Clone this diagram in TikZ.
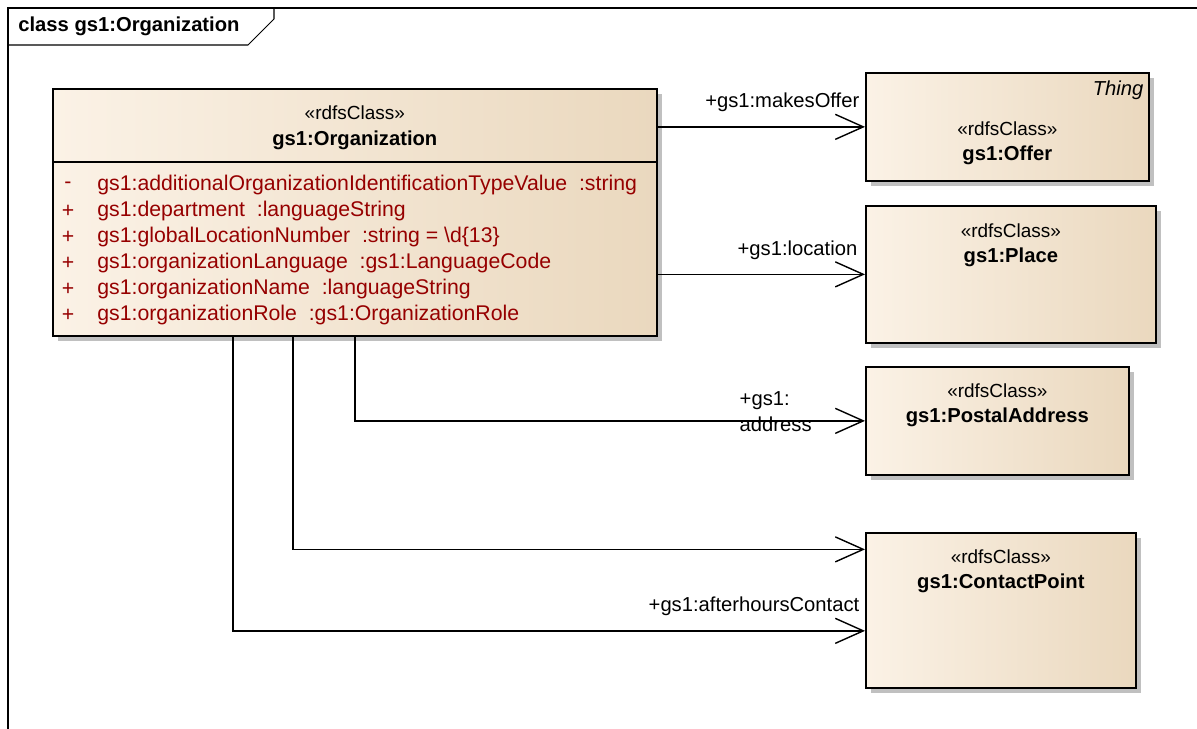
\documentclass[tikz,border=0pt]{standalone}
\usepackage{fontspec}
\setmainfont{Liberation Sans}
\usepackage{xcolor}
\definecolor{clsleft}{RGB}{251,242,230}
\definecolor{clsright}{RGB}{234,216,190}
\definecolor{attrred}{RGB}{150,0,0}
\definecolor{shadowgray}{RGB}{192,192,192}
\usetikzlibrary{arrows.meta,positioning,shadows}

\begin{document}
\begin{tikzpicture}[x=0.02cm,y=-0.02cm,
    font=\fontsize{11.5}{14.8}\selectfont,
    clsbox/.style={draw=black,line width=1pt,left color=clsleft,right color=clsright,
      drop shadow={shadow xshift=0.11cm,shadow yshift=-0.11cm,fill=shadowgray,opacity=1},
      anchor=north west,inner sep=0pt},
    stereo/.style={inner sep=0pt,font=\fontsize{10.8}{14}\selectfont},
    clsname/.style={inner sep=0pt,font=\fontsize{11.5}{14.8}\selectfont\bfseries},
    attr/.style={inner sep=0pt,anchor=west,text=attrred,font=\fontsize{12.1}{14.8}\selectfont},
    assoc/.style={line width=0.8pt,-{Straight Barb[length=0.56cm,width=0.5cm,line width=0.8pt]}},
    role/.style={inner sep=0pt,anchor=south east}]
    \useasboundingbox (0,0) rectangle (1197,729);

    % diagram frame
    \draw[line width=0.6pt] (8,729) -- (8,8) -- (1197,8);
    \draw[line width=0.6pt] (8,45) -- (248,45) -- (274,19) -- (274,8);
    \node[clsname,anchor=west] (frametitle) at (18,26) {class gs1:Organization};

    % gs1:Organization
    \node[clsbox,minimum width=12.08cm,minimum height=4.94cm] (org) at (52,88) {};
    \draw[line width=1pt] ([yshift=-1.48cm]org.north west) -- ([yshift=-1.48cm]org.north east);
    \node[stereo] (orgst) at ([yshift=-0.5cm]org.north) {«rdfsClass»};
    \node[clsname] (orgnm) at ([yshift=-1.04cm]org.north) {gs1:Organization};
    \foreach \vis/\txt [count=\i] in {
        -/gs1:additionalOrganizationIdentificationTypeValue\ \ :string,
        +/gs1:department\ \ :languageString,
        +/gs1:globalLocationNumber\ \ :string = \textbackslash d\{13\},
        +/gs1:organizationLanguage\ \ :gs1:LanguageCode,
        +/gs1:organizationName\ \ :languageString,
        +/gs1:organizationRole\ \ :gs1:OrganizationRole}
    {
        \node[attr,anchor=center] (vis\i) at (68,159+26*\i) {\vis};
        \node[attr] (attr\i) at (97,159+26*\i) {\txt};
    }

    % target classes
    \node[clsbox,minimum width=5.66cm,minimum height=2.16cm] (offer) at (865,72) {};
    \node[stereo,anchor=east] (offerth) at ([xshift=-0.12cm,yshift=-0.36cm]offer.north east) {\fontsize{11.5}{14}\selectfont\itshape Thing};
    \node[stereo] (offerst) at ([yshift=-1.14cm]offer.north) {«rdfsClass»};
    \node[clsname] (offernm) at ([yshift=-1.66cm]offer.north) {gs1:Offer};

    \node[clsbox,minimum width=5.8cm,minimum height=2.74cm] (place) at (865,205) {};
    \node[stereo] (placest) at ([yshift=-0.52cm]place.north) {«rdfsClass»};
    \node[clsname] (placenm) at ([yshift=-1.04cm]place.north) {gs1:Place};

    \node[clsbox,minimum width=5.26cm,minimum height=2.16cm] (postal) at (865,366) {};
    \node[stereo] (postalst) at ([yshift=-0.5cm]postal.north) {«rdfsClass»};
    \node[clsname] (postalnm) at ([yshift=-1.02cm]postal.north) {gs1:PostalAddress};

    \node[clsbox,minimum width=5.4cm,minimum height=3.1cm] (contact) at (865,532) {};
    \node[stereo] (contactst) at ([yshift=-0.5cm]contact.north) {«rdfsClass»};
    \node[clsname] (contactnm) at ([yshift=-1.02cm]contact.north) {gs1:ContactPoint};

    % associations
    \draw[assoc] (org.east |- offer.west) -- (offer.west)
        node[role,pos=1,xshift=-0.1cm,yshift=0.28cm] (rolemo) {+gs1:makesOffer};
    \draw[assoc] (org.east |- place.west) -- (place.west)
        node[role,pos=1,xshift=-0.14cm,yshift=0.28cm] (rolelo) {+gs1:location};
    \draw[assoc] (org.south) |- (postal.west)
        node[role,pos=1,anchor=west,align=left,xshift=-2.52cm,yshift=0.18cm] (rolead) {+gs1:\\address};
    \draw[assoc] ([xshift=-1.24cm]org.south) |- ([yshift=1.22cm]contact.west);
    \draw[assoc] ([xshift=-2.44cm]org.south) |- ([yshift=-0.41cm]contact.west)
        node[role,pos=1,xshift=-0.1cm,yshift=0.28cm] (roleah) {+gs1:afterhoursContact};
\end{tikzpicture}
\end{document}
